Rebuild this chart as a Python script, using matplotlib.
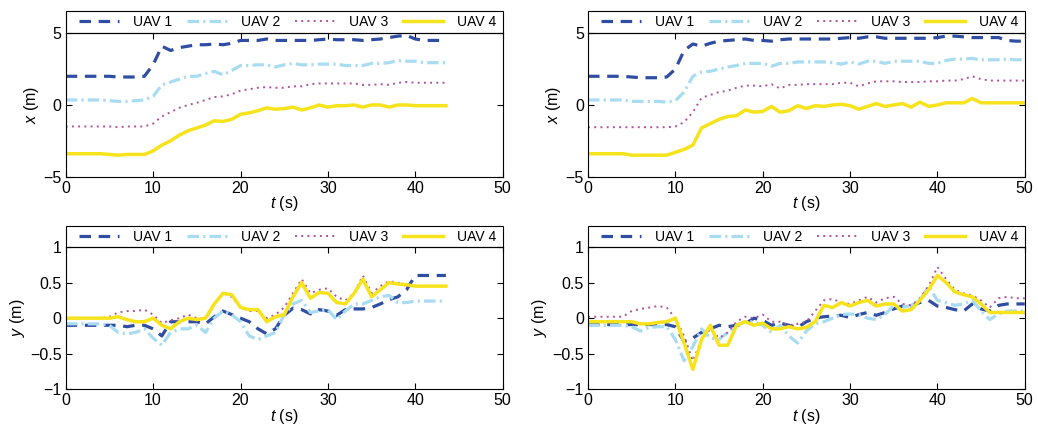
import numpy as np
import matplotlib
matplotlib.use('Agg')
import matplotlib.pyplot as plt
from matplotlib.patches import Rectangle

plt.rcParams['font.family'] = ['Liberation Sans', 'DejaVu Sans']
plt.rcParams['mathtext.fontset'] = 'custom'
plt.rcParams['mathtext.it'] = 'Liberation Sans:italic'
plt.rcParams['mathtext.rm'] = 'Liberation Sans'

# time axes (s)
t_left = list(range(0, 43)) + [43.5]
t_right = list(range(0, 51))

# x position, left run
x1_left = [2.0, 2.0, 2.0, 2.0, 2.0, 2.0, 1.95, 1.95, 1.95, 2.0, 2.8, 4.1, 3.8, 4.0, 4.1, 4.2, 4.2, 4.25, 4.2, 4.3,
           4.5, 4.5, 4.5, 4.6, 4.5, 4.5, 4.5, 4.5, 4.5, 4.55, 4.6, 4.55, 4.55, 4.55, 4.5, 4.55, 4.6, 4.7, 4.8, 4.85,
           4.6, 4.5, 4.5, 4.5]
x2_left = [0.35, 0.35, 0.35, 0.35, 0.35, 0.3, 0.25, 0.25, 0.3, 0.35, 0.6, 1.4, 1.6, 1.8, 2.0, 2.0, 2.2, 2.35, 2.1, 2.4,
           2.75, 2.75, 2.8, 2.8, 2.65, 2.8, 2.9, 2.8, 2.8, 2.85, 2.85, 2.85, 2.75, 2.75, 2.75, 2.9, 2.9, 2.95, 3.1, 3.05,
           3.05, 2.95, 2.95, 2.95]
x3_left = [-1.5, -1.5, -1.5, -1.5, -1.5, -1.5, -1.55, -1.5, -1.5, -1.5, -1.3, -0.8, -0.5, -0.2, 0.0, 0.15, 0.35, 0.55, 0.6, 0.75,
           1.0, 1.1, 1.2, 1.25, 1.2, 1.2, 1.3, 1.3, 1.45, 1.5, 1.5, 1.5, 1.5, 1.5, 1.4, 1.4, 1.45, 1.4, 1.55, 1.6,
           1.55, 1.55, 1.55, 1.55]
x4_left = [-3.4, -3.4, -3.4, -3.4, -3.4, -3.45, -3.5, -3.45, -3.45, -3.45, -3.2, -2.8, -2.5, -2.1, -1.8, -1.6, -1.4, -1.1, -1.15, -1.0,
           -0.65, -0.55, -0.4, -0.2, -0.3, -0.25, -0.15, -0.35, -0.2, 0.0, -0.15, -0.05, -0.05, 0.0, -0.15, 0.0, 0.0, -0.15, 0.0, 0.0,
           -0.05, -0.05, -0.05, -0.05]

# x position, right run
x1_right = [2.0, 2.0, 2.0, 2.0, 2.0, 1.95, 1.9, 1.9, 1.9, 1.95, 2.5, 3.8, 4.25, 4.1, 4.3, 4.45, 4.5, 4.55, 4.6, 4.5,
            4.5, 4.45, 4.55, 4.6, 4.6, 4.6, 4.6, 4.6, 4.6, 4.65, 4.7, 4.65, 4.75, 4.75, 4.65, 4.65, 4.65, 4.65, 4.65, 4.65,
            4.7, 4.8, 4.8, 4.75, 4.7, 4.7, 4.7, 4.7, 4.5, 4.45, 4.45]
x2_right = [0.35, 0.35, 0.35, 0.35, 0.35, 0.25, 0.25, 0.25, 0.25, 0.2, 0.3, 0.9, 2.0, 2.3, 2.35, 2.5, 2.65, 2.75, 2.9, 2.9,
            2.9, 2.7, 2.9, 2.9, 3.0, 3.0, 3.0, 3.0, 2.95, 2.85, 3.0, 2.85, 3.05, 3.05, 2.9, 3.05, 3.05, 3.05, 3.05, 2.9,
            2.9, 3.1, 3.2, 3.2, 3.25, 3.15, 3.15, 3.15, 3.2, 3.15, 3.15]
x3_right = [-1.55, -1.55, -1.55, -1.55, -1.55, -1.55, -1.55, -1.55, -1.55, -1.55, -1.5, -1.2, -0.5, 0.5, 0.7, 0.9, 1.0, 1.2, 1.35, 1.35,
            1.3, 1.45, 1.15, 1.4, 1.4, 1.45, 1.45, 1.45, 1.45, 1.55, 1.55, 1.3, 1.5, 1.65, 1.65, 1.65, 1.6, 1.6, 1.6, 1.65,
            1.65, 1.7, 1.7, 1.8, 2.0, 1.8, 1.7, 1.7, 1.7, 1.7, 1.7]
x4_right = [-3.4, -3.4, -3.4, -3.4, -3.4, -3.5, -3.5, -3.5, -3.5, -3.5, -3.3, -3.1, -2.8, -1.6, -1.3, -1.0, -0.8, -0.75, -0.35, -0.5,
            -0.45, -0.1, -0.5, -0.4, -0.05, -0.25, -0.05, -0.1, 0.0, 0.05, -0.05, -0.3, -0.1, 0.1, -0.1, 0.0, 0.1, -0.15, 0.2, -0.1,
            0.0, 0.15, 0.15, 0.15, 0.45, 0.15, 0.15, 0.15, 0.15, 0.15, 0.15]

# y position, left run
y1_left = [-0.1, -0.1, -0.1, -0.1, -0.1, -0.1, -0.1, -0.12, -0.1, -0.1, -0.15, -0.25, -0.05, -0.05, -0.05, -0.05, -0.08, 0.02, 0.1, 0.05,
           0.0, -0.05, -0.15, -0.22, -0.15, 0.04, 0.14, 0.12, 0.06, 0.12, 0.1, 0.04, 0.12, 0.13, 0.13, 0.15, 0.2, 0.26, 0.3, 0.4,
           0.6, 0.6, 0.6, 0.6]
y2_left = [-0.08, -0.08, -0.08, -0.08, -0.08, -0.1, -0.2, -0.22, -0.2, -0.15, -0.28, -0.38, -0.2, -0.15, -0.15, -0.1, -0.2, 0.0, 0.1, 0.05,
           -0.05, -0.25, -0.3, -0.25, -0.2, 0.05, 0.2, 0.25, 0.08, 0.1, 0.12, -0.02, 0.1, 0.2, 0.2, 0.25, 0.3, 0.32, 0.22, 0.22,
           0.24, 0.24, 0.24, 0.24]
y3_left = [0.0, 0.0, 0.0, 0.0, 0.0, 0.02, 0.08, 0.1, 0.1, 0.12, 0.05, -0.07, -0.03, 0.0, 0.05, 0.0, 0.0, 0.2, 0.35, 0.3,
           0.15, 0.1, 0.1, 0.0, 0.05, 0.15, 0.35, 0.55, 0.35, 0.4, 0.42, 0.3, 0.25, 0.35, 0.6, 0.35, 0.45, 0.52, 0.5, 0.45,
           0.45, 0.45, 0.45, 0.45]
y4_left = [0.0, 0.0, 0.0, 0.0, 0.0, 0.0, 0.02, -0.02, -0.05, -0.05, 0.0, -0.1, -0.15, -0.05, 0.0, -0.02, 0.0, 0.2, 0.35, 0.33,
           0.15, 0.12, 0.12, -0.05, 0.02, 0.05, 0.3, 0.5, 0.28, 0.36, 0.35, 0.22, 0.2, 0.35, 0.55, 0.3, 0.4, 0.5, 0.48, 0.47,
           0.45, 0.45, 0.45, 0.45]

# y position, right run
y1_right = [-0.09, -0.09, -0.09, -0.09, -0.09, -0.09, -0.09, -0.09, -0.09, -0.09, -0.12, -0.33, -0.28, -0.2, -0.15, -0.1, -0.12, -0.1, -0.08, 0.0,
            -0.03, -0.1, -0.07, -0.1, -0.13, -0.05, 0.0, 0.02, 0.03, 0.04, 0.01, 0.05, 0.08, 0.04, 0.08, 0.13, 0.17, 0.17, 0.22, 0.25,
            0.17, 0.15, 0.12, 0.1, 0.2, 0.13, 0.1, 0.18, 0.2, 0.2, 0.2]
y2_right = [-0.1, -0.1, -0.1, -0.1, -0.1, -0.12, -0.18, -0.13, -0.12, -0.12, -0.3, -0.6, -0.4, -0.15, -0.28, -0.3, -0.2, -0.1, -0.05, -0.05,
            -0.1, -0.2, -0.1, -0.25, -0.35, -0.18, -0.08, -0.05, 0.0, 0.05, 0.06, 0.05, 0.0, -0.02, 0.05, 0.18, 0.15, 0.18, 0.25, 0.45,
            0.25, 0.22, 0.18, 0.2, 0.25, 0.1, -0.02, 0.06, 0.1, 0.1, 0.1]
y3_right = [0.02, 0.02, 0.02, 0.02, 0.02, 0.1, 0.13, 0.15, 0.17, 0.15, 0.0, -0.25, -0.6, -0.3, -0.15, -0.28, -0.2, -0.05, 0.02, 0.0,
            0.05, -0.05, -0.05, -0.1, -0.08, -0.05, 0.1, 0.25, 0.27, 0.22, 0.2, 0.25, 0.3, 0.22, 0.28, 0.3, 0.2, 0.18, 0.28, 0.45,
            0.72, 0.55, 0.4, 0.35, 0.32, 0.25, 0.15, 0.28, 0.3, 0.28, 0.28]
y4_right = [-0.05, -0.05, -0.05, -0.05, -0.05, -0.05, -0.08, -0.08, -0.06, -0.05, 0.0, -0.35, -0.72, -0.3, -0.1, -0.38, -0.38, -0.1, -0.05, -0.1,
            -0.07, -0.15, -0.15, -0.12, -0.15, -0.13, -0.05, 0.18, 0.15, 0.22, 0.17, 0.22, 0.25, 0.17, 0.2, 0.2, 0.1, 0.12, 0.25, 0.4,
            0.6, 0.5, 0.37, 0.33, 0.3, 0.2, 0.08, 0.08, 0.08, 0.08, 0.08]

labels = ['UAV 1', 'UAV 2', 'UAV 3', 'UAV 4']
colors = ['#2f4ea3', '#a8dcf2', '#b4519c', '#f7e31c']

fig = plt.figure(figsize=(10.38, 4.32), dpi=100)


def draw_panel(rect, t, series, ylim, yticks, ylabel, leg_h):
    ax = fig.add_axes(rect)
    l1, = ax.plot(t, series[0], color=colors[0], lw=2.3, dashes=(3.6, 2.4))
    l2, = ax.plot(t, series[1], color=colors[1], lw=2.3, dashes=(3.6, 1.3, 0.7, 1.3))
    l3, = ax.plot(t, series[2], color=colors[2], lw=1.4, dashes=(1, 2.2))
    l4, = ax.plot(t, series[3], color=colors[3], lw=2.5)
    ax.set_xlim(0, 50)
    ax.set_ylim(*ylim)
    ax.set_xticks([0, 10, 20, 30, 40, 50])
    ax.set_yticks(yticks)
    ax.set_yticklabels([('%g' % v).replace('-', '\u2212') for v in yticks])
    ax.tick_params(direction='in', length=4, width=0.8, top=True, right=True, labelsize=11.5, pad=3)
    for s in ax.spines.values():
        s.set_linewidth(0.8)
    ax.set_xlabel('$t$ (s)', fontsize=11.5, labelpad=-1)
    ax.set_ylabel(ylabel, fontsize=11.5, labelpad=2)
    # legend box sitting on top of the axes
    ax.add_patch(Rectangle((0, 1), 1, leg_h, transform=ax.transAxes, fill=False,
                           edgecolor='black', lw=0.8, clip_on=False))
    ax.legend([l1, l2, l3, l4], labels, loc='center', ncol=4, mode='expand',
              bbox_to_anchor=(0.0235, 1, 0.968, leg_h), frameon=False, fontsize=10,
              handlelength=2.9, handletextpad=1.0, borderaxespad=0, borderpad=0.2)
    return ax


draw_panel([0.0633, 0.591, 0.421, 0.332], t_left, [x1_left, x2_left, x3_left, x4_left],
           (-5, 5), [-5, 0, 5], '$x$ (m)', 0.1555)
draw_panel([0.5665, 0.591, 0.4207, 0.332], t_right, [x1_right, x2_right, x3_right, x4_right],
           (-5, 5), [-5, 0, 5], '$x$ (m)', 0.1555)
draw_panel([0.0633, 0.0988, 0.421, 0.3294], t_left, [y1_left, y2_left, y3_left, y4_left],
           (-1, 1), [-1, -0.5, 0, 0.5, 1], '$y$ (m)', 0.1476)
draw_panel([0.5665, 0.0988, 0.4207, 0.3294], t_right, [y1_right, y2_right, y3_right, y4_right],
           (-1, 1), [-1, -0.5, 0, 0.5, 1], '$y$ (m)', 0.1476)

plt.savefig('out.png', dpi=100)
